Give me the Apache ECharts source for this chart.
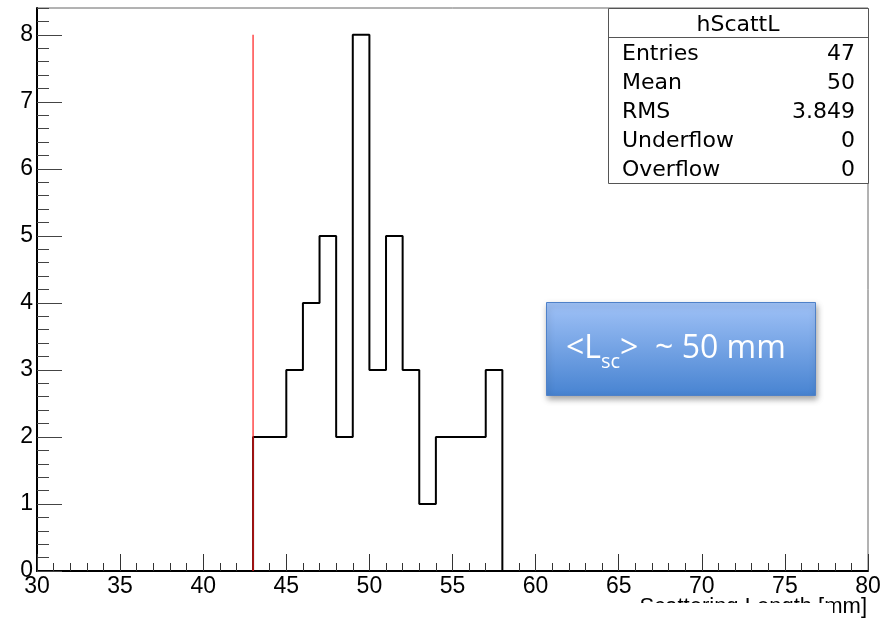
<!DOCTYPE html>
<html>
<head>
<meta charset="utf-8">
<script src="https://cdn.jsdelivr.net/npm/echarts@6/dist/echarts.min.js"></script>
<style>
html,body{margin:0;padding:0;background:#fff;}
#chart{width:895px;height:620px;}
</style>
</head>
<body>
<div id="chart"></div>
<script>
// Histogram data: lower bin edges (width 1 mm) and counts
const binLow = [43, 44, 45, 46, 47, 48, 49, 50, 51, 52, 53, 54, 55, 56, 57];
const counts = [2, 2, 3, 4, 5, 2, 8, 3, 5, 3, 1, 2, 2, 2, 3];
const binWidth = 1;
// Red cut line
const cutX = 43;
const cutTop = 8;
// Stats box
const statsTitle = 'hScattL';
const statsNames = ['Entries', 'Mean', 'RMS', 'Underflow', 'Overflow'];
const statsValues = ['47', '50', '3.849', '0', '0'];
const xTitle = 'Scattering Length [mm]';

// Build histogram outline points
const outline = [[binLow[0], 0]];
for (let i = 0; i < binLow.length; i++) {
  outline.push([binLow[i], counts[i]]);
  outline.push([binLow[i] + binWidth, counts[i]]);
}
outline.push([binLow[binLow.length - 1] + binWidth, 0]);

const FONT = 'Liberation Sans';
const SFONT = 'DejaVu Sans';
const chart = echarts.init(document.getElementById('chart'));

const graphics = [];
// stats box
graphics.push({ type: 'rect', shape: { x: 608.5, y: 8.5, width: 260, height: 175 },
  style: { fill: '#fff', stroke: '#555', lineWidth: 1 }, z: 10 });
graphics.push({ type: 'line', shape: { x1: 608.5, y1: 37.5, x2: 868.5, y2: 37.5 },
  style: { stroke: '#555', lineWidth: 1 }, z: 11 });
graphics.push({ type: 'text', x: 738, y: 25, z: 12,
  style: { text: statsTitle, font: '22px "' + SFONT + '"', fill: '#000', textAlign: 'center', textVerticalAlign: 'middle' } });
const rowY = [54.5, 83.5, 112.5, 141.5, 170.5];
statsNames.forEach((n, i) => {
  graphics.push({ type: 'text', x: 622, y: rowY[i], z: 12,
    style: { text: n, font: '22px "' + SFONT + '"', fill: '#000', textAlign: 'left', textVerticalAlign: 'middle' } });
  graphics.push({ type: 'text', x: 855, y: rowY[i], z: 12,
    style: { text: statsValues[i], font: '22px "' + SFONT + '"', fill: '#000', textAlign: 'right', textVerticalAlign: 'middle' } });
});
// annotation box
graphics.push({ type: 'rect', shape: { x: 546.5, y: 302.5, width: 269, height: 93 }, z: 10,
  style: {
    fill: new echarts.graphic.LinearGradient(0, 0, 0, 1, [
      { offset: 0, color: '#a0c2f7' }, { offset: 1, color: '#4783d1' }]),
    stroke: '#4f81c8', lineWidth: 1,
    shadowBlur: 6, shadowOffsetX: 1, shadowOffsetY: 3, shadowColor: 'rgba(0,0,0,0.35)'
  } });
graphics.push({ type: 'text', x: 566, y: 333, z: 12,
  style: {
    text: '{a|<L}{s|sc}{a|>  ~ 50 mm}',
    textAlign: 'left', textVerticalAlign: 'top',
    rich: {
      a: { fontFamily: 'Open Sans', fontSize: 32, lineHeight: 39, verticalAlign: 'top', fill: '#fff' },
      s: { fontFamily: 'Open Sans', fontSize: 20, lineHeight: 20, padding: [32, 0, 0, 0], verticalAlign: 'bottom', fill: '#fff' }
    }
  } });
// x axis title and the white cover from the slide
graphics.push({ type: 'text', x: 867, y: 596, z: 5,
  style: { text: xTitle, font: '22px "' + FONT + '"', fill: '#000', textAlign: 'right', textVerticalAlign: 'top' } });
graphics.push({ type: 'rect', shape: { x: 590, y: 603, width: 243, height: 17 }, z: 6,
  style: { fill: '#fff' } });

chart.setOption({
  animation: false,
  backgroundColor: '#fff',
  grid: { left: 37, top: 8, width: 831, height: 563, show: true, borderColor: '#666', borderWidth: 1, backgroundColor: 'transparent' },
  xAxis: {
    type: 'value', min: 30, max: 80, interval: 5,
    axisLine: { lineStyle: { color: '#000', width: 2 } },
    axisTick: { inside: true, length: 17, lineStyle: { color: '#333', width: 1 } },
    minorTick: { show: true, splitNumber: 5, length: 8, lineStyle: { color: '#333', width: 1 } },
    axisLabel: { fontFamily: FONT, fontSize: 23, color: '#000', margin: 4 },
    splitLine: { show: false }
  },
  yAxis: [{
    type: 'value', min: 0, max: 8.4, interval: 1, position: 'left',
    axisLine: { show: true, lineStyle: { color: '#000', width: 2 } },
    axisTick: { show: true, inside: true, length: 25, lineStyle: { color: '#444', width: 1 } },
    axisLabel: { fontFamily: FONT, fontSize: 23, color: '#000', margin: 4, showMaxLabel: false },
    splitLine: { show: false }
  }, {
    type: 'value', min: 0, max: 8.4, interval: 0.2, position: 'left', offset: 0,
    axisLine: { show: false },
    axisTick: { show: true, inside: true, length: 12, lineStyle: { color: '#444', width: 1 } },
    axisLabel: { show: false },
    splitLine: { show: false }
  }],
  series: [{
    type: 'line', data: outline, showSymbol: false, symbol: 'none',
    lineStyle: { color: '#000', width: 2 }, z: 3, silent: true
  }, {
    type: 'line', data: [[cutX, 0], [cutX, cutTop]], showSymbol: false, symbol: 'none',
    lineStyle: { color: '#ff1a1a', width: 1.2 }, z: 4, silent: true
  }],
  graphic: graphics
});
</script>
</body>
</html>
